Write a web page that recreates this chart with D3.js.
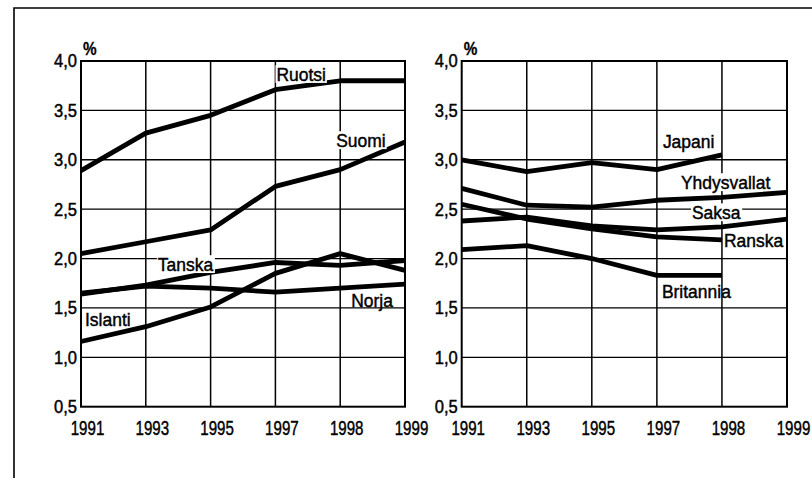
<!DOCTYPE html>
<html><head><meta charset="utf-8">
<script src="https://cdn.jsdelivr.net/npm/d3@7/dist/d3.min.js"></script>
<style>
body{margin:0;background:#fff;}
svg{display:block;}
text{font-family:"Liberation Sans",Arial,sans-serif;fill:#000;}
</style></head>
<body><svg id="c" width="812" height="478"></svg>
<script>
// ---- data ----
const years = ["1991","1993","1995","1997","1998","1999"];
const yTicks = [0.5,1.0,1.5,2.0,2.5,3.0,3.5,4.0];

const ruotsi = [2.89,3.27,3.45,3.71,3.80,3.80];
const suomi  = [2.05,2.17,2.29,2.73,2.90,3.18];
const tanska = [1.64,1.73,1.86,1.96,1.93,1.98];
const norja  = [1.65,1.72,1.70,1.66,1.70,1.74];
const islanti= [1.16,1.31,1.51,1.85,2.05,1.88];

const japani     = [3.00,2.88,2.97,2.90,3.05];
const yhdysvallat= [2.71,2.54,2.52,2.59,2.62,2.67];
const saksa      = [2.38,2.42,2.33,2.29,2.32,2.40];
const ranska     = [2.55,2.40,2.30,2.22,2.19];
const britannia  = [2.09,2.13,2.00,1.83,1.83];

const leftSeries = [
  {name:"Ruotsi", values:ruotsi},
  {name:"Suomi", values:suomi},
  {name:"Tanska", values:tanska},
  {name:"Norja", values:norja},
  {name:"Islanti", values:islanti}
];
const rightSeries = [
  {name:"Japani", values:japani},
  {name:"Yhdysvallat", values:yhdysvallat},
  {name:"Saksa", values:saksa},
  {name:"Ranska", values:ranska},
  {name:"Britannia", values:britannia}
];
// label anchors: year tick, pixel offset, value at baseline, white background?
const leftLabels = [
  {name:"Ruotsi", year:"1997", dx:1, v:3.80, bg:true},
  {name:"Suomi", year:"1998", dx:-4, v:3.13, bg:true},
  {name:"Tanska", year:"1993", dx:12, v:1.875, bg:true},
  {name:"Islanti", year:"1991", dx:4, v:1.32, bg:false},
  {name:"Norja", year:"1998", dx:11, v:1.51, bg:false}
];
const rightLabels = [
  {name:"Japani", year:"1997", dx:6, v:3.12, bg:true},
  {name:"Yhdysvallat", year:"1997", dx:24, v:2.705, bg:true},
  {name:"Saksa", year:"1997", dx:35, v:2.40, bg:true},
  {name:"Ranska", year:"1998", dx:2, v:2.12, bg:true},
  {name:"Britannia", year:"1997", dx:5, v:1.60, bg:false}
];

const svg = d3.select("#c");
// outer frame (top and left edges visible)
svg.append("path").attr("d","M14,478V8H812").attr("fill","none").attr("stroke","#000").attr("stroke-width",1.6);

const y = d3.scaleLinear().domain([0.5,4.0]).range([406.7,61]);
const fmt = d => d3.format(".1f")(d).replace(".",",");

function narrowText(parent, x, yy, sx, size, str, anchor, weight){
  const g = parent.append("g").attr("transform",`translate(${x},${yy}) scale(${sx},1)`);
  const t = g.append("text").attr("x",0).attr("y",0).attr("font-size",size)
    .attr("text-anchor",anchor||"start").attr("stroke","#000").attr("stroke-width",weight==null?0.45:weight).text(str);
  return {g,t};
}

function panel(x0, x1, series, labels){
  const x = d3.scalePoint().domain(years).range([x0,x1]).padding(0);
  const g = svg.append("g");
  // grid
  g.selectAll(".hg").data(yTicks.slice(1,-1)).join("line")
    .attr("x1",x0).attr("x2",x1).attr("y1",d=>y(d)).attr("y2",d=>y(d))
    .attr("stroke","#000").attr("stroke-width",1.3);
  g.selectAll(".vg").data(years.slice(1,-1)).join("line")
    .attr("x1",d=>x(d)).attr("x2",d=>x(d)).attr("y1",y(4.0)).attr("y2",y(0.5))
    .attr("stroke","#000").attr("stroke-width",1.5);
  // lines
  const line = d3.line().x((d,i)=>x(years[i])).y(d=>y(d));
  g.selectAll(".ser").data(series).join("path")
    .attr("d",d=>line(d.values)).attr("fill","none")
    .attr("stroke","#000").attr("stroke-width",4.8).attr("stroke-linejoin","round");
  // frame
  g.append("rect").attr("x",x0).attr("y",y(4.0)).attr("width",x1-x0).attr("height",y(0.5)-y(4.0))
    .attr("fill","none").attr("stroke","#000").attr("stroke-width",2);
  // labels
  const tg = svg.append("g");
  labels.forEach(l=>{
    const {g:lg,t} = narrowText(tg, x(l.year)+l.dx, y(l.v), 0.92, 19, l.name, "start");
    if(l.bg){
      const b = t.node().getBBox();
      lg.insert("rect","text").attr("x",b.x-1).attr("y",b.y+2).attr("width",b.width+2).attr("height",b.height-4).attr("fill","#fff");
    }
  });
  // y axis labels
  const ya = svg.append("g");
  yTicks.forEach(d=>{
    const {t} = narrowText(ya, x0-4, y(d), 0.92, 18, fmt(d), "end");
    t.attr("dy","0.36em");
  });
  // x axis labels
  const xa = svg.append("g");
  years.forEach(d=>{ narrowText(xa, x(d)+6.5, 435, 0.72, 21, d, "middle"); });
  // percent sign
  narrowText(svg, x0+2, 55, 0.85, 18, "%", "start", 0.3).t.attr("font-weight","bold");
}
panel(81,405,leftSeries,leftLabels);
panel(461.7,787,rightSeries,rightLabels);
</script></body></html>
